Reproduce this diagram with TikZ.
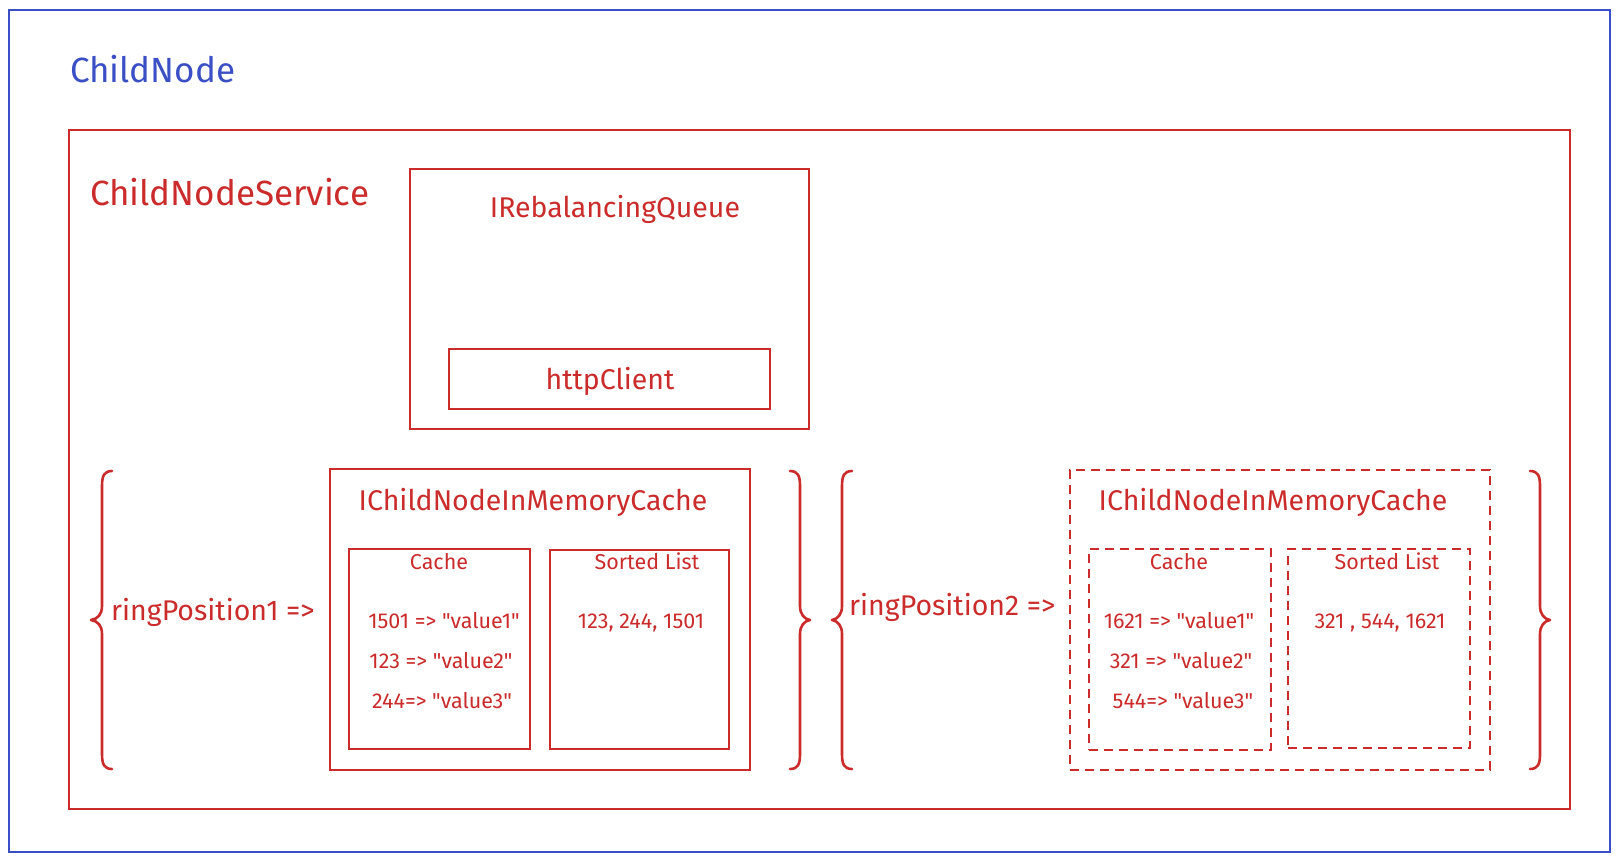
\documentclass[tikz,border=0pt]{standalone}
\usepackage{fontspec}
\setmainfont{Fira Sans}[Ligatures=TeXOff]
\definecolor{cblue}{HTML}{3A4FC6}
\definecolor{cred}{HTML}{CC2B2B}
\begin{document}
\begin{tikzpicture}[x=1pt,y=-1pt,
  bluebox/.style={draw=cblue, line width=2pt, inner sep=0pt, outer sep=0pt},
  redbox/.style={draw=cred, line width=1.4pt, inner sep=0pt, outer sep=0pt},
  dashbox/.style={draw=cred, line width=1.4pt, inner sep=0pt, outer sep=0pt, dash pattern=on 9pt off 6pt},
  brace/.style={draw=cred, line width=2.6pt, line cap=round, line join=round},
  bigtxt/.style={text=#1, font=\fontsize{35}{40}\selectfont, inner sep=0pt},
  midtxt/.style={text=cred, font=\fontsize{28.5}{32}\selectfont, inner sep=0pt},
  smalltxt/.style={text=cred, font=\fontsize{21.5}{25}\selectfont, inner sep=0pt}
]
\useasboundingbox (0,0) rectangle (1620,859);
\fill[white] (0,0) rectangle (1620,859);

% outer boxes
\node[bluebox, minimum width=1601pt, minimum height=842pt] (childnode) at (809.5,431) {};
\node[bigtxt=cblue, anchor=base west] (childnodelbl) at (70,83) {ChildNode};
\node[redbox, minimum width=1501pt, minimum height=679pt] (service) at (819.5,469.5) {};
\node[bigtxt=cred, anchor=base west] (servicelbl) at (90,205) {ChildNodeService};

% rebalancing queue
\node[redbox, minimum width=399pt, minimum height=260pt] (rq) at (609.5,299) {};
\node[midtxt, anchor=base] (rqlbl) at (615,217) {IRebalancingQueue};
\node[redbox, minimum width=321pt, minimum height=60pt] (http) at (609.5,379) {};
\node[midtxt, anchor=base] (httplbl) at (610,389) {httpClient};

% ring position 1
\path[brace] (112,471) .. controls (104,471) and (102,476) .. (102,486)
  -- (102,606) .. controls (102,614) and (98,619) .. (91,620)
  .. controls (98,621) and (102,626) .. (102,634)
  -- (102,754) .. controls (102,764) and (104,769) .. (112,769);
\node[midtxt, anchor=base west] (rp1) at (111,620) {ringPosition1 =>};
\node[redbox, minimum width=420pt, minimum height=301pt] (c1) at (540,619.5) {};
\node[midtxt, anchor=base] (c1lbl) at (533,510) {IChildNodeInMemoryCache};
\node[redbox, minimum width=181pt, minimum height=200pt] (c1cache) at (439.5,649) {};
\node[smalltxt, anchor=base] (c1cachelbl) at (439,569) {Cache};
\node[smalltxt, anchor=base] (c1v1) at (444,628) {1501 => "value1"};
\node[smalltxt, anchor=base] (c1v2) at (441,668) {123 => "value2"};
\node[smalltxt, anchor=base] (c1v3) at (442,708) {244=> "value3"};
\node[redbox, minimum width=179pt, minimum height=199pt] (c1sorted) at (639.5,649.5) {};
\node[smalltxt, anchor=base] (c1sortedlbl) at (647,569) {Sorted List};
\node[smalltxt, anchor=base] (c1list) at (641,628) {123, 244, 1501};
\path[brace] (790,471) .. controls (798,471) and (800,476) .. (800,486)
  -- (800,606) .. controls (800,614) and (804,619) .. (810,620)
  .. controls (804,621) and (800,626) .. (800,634)
  -- (800,754) .. controls (800,764) and (798,769) .. (790,769);

% ring position 2
\path[brace] (852,471) .. controls (844,471) and (842,476) .. (842,486)
  -- (842,606) .. controls (842,614) and (838,619) .. (832,620)
  .. controls (838,621) and (842,626) .. (842,634)
  -- (842,754) .. controls (842,764) and (844,769) .. (852,769);
\node[midtxt, anchor=base west] (rp2) at (849,615) {ringPosition2 =>};
\node[dashbox, minimum width=420pt, minimum height=300pt] (c2) at (1280,620) {};
\node[midtxt, anchor=base] (c2lbl) at (1273,510) {IChildNodeInMemoryCache};
\node[dashbox, minimum width=182pt, minimum height=201pt] (c2cache) at (1180,649.5) {};
\node[smalltxt, anchor=base] (c2cachelbl) at (1179,569) {Cache};
\node[smalltxt, anchor=base] (c2v1) at (1179,628) {1621 => "value1"};
\node[smalltxt, anchor=base] (c2v2) at (1181,668) {321 => "value2"};
\node[smalltxt, anchor=base] (c2v3) at (1183,708) {544=> "value3"};
\node[dashbox, minimum width=182pt, minimum height=199pt] (c2sorted) at (1379,648.5) {};
\node[smalltxt, anchor=base] (c2sortedlbl) at (1387,569) {Sorted List};
\node[smalltxt, anchor=base] (c2list) at (1380,628) {321 , 544, 1621};
\path[brace] (1530,471) .. controls (1538,471) and (1540,476) .. (1540,486)
  -- (1540,606) .. controls (1540,614) and (1544,619) .. (1550,620)
  .. controls (1544,621) and (1540,626) .. (1540,634)
  -- (1540,754) .. controls (1540,764) and (1538,769) .. (1530,769);
\end{tikzpicture}
\end{document}
